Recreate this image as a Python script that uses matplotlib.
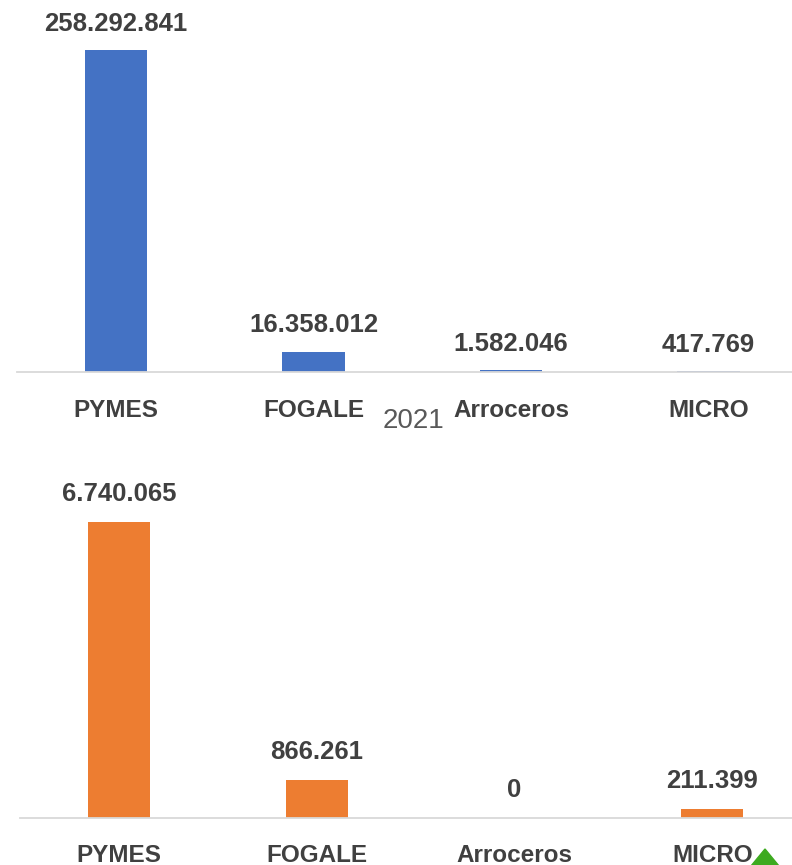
import matplotlib
matplotlib.use("Agg")
import matplotlib.pyplot as plt
from matplotlib.patches import Polygon

categories = ["PYMES", "FOGALE", "Arroceros", "MICRO"]
values_top = [258292841, 16358012, 1582046, 417769]
values_bottom = [6740065, 866261, 0, 211399]
labels_top = ["258.292.841", "16.358.012", "1.582.046", "417.769"]
labels_bottom = ["6.740.065", "866.261", "0", "211.399"]
year_label = "2021"

W, H = 792, 865
fig = plt.figure(figsize=(W / 100, H / 100), dpi=100)
plt.rcParams['font.family'] = ['Liberation Sans', 'DejaVu Sans']

TXT = "#404040"
AXC = "#D9D9D9"


def px_axes(left, bottom_y, top_y, width):
    return fig.add_axes([left / W, (H - bottom_y) / H, width / W, (bottom_y - top_y) / H])


def draw(ax, vals, labels, color, ymax, pad, off):
    x = list(range(len(categories)))
    ax.bar(x, vals, width=0.314, color=color, zorder=2)
    ax.set_xlim(-0.5, 3.5)
    ax.set_ylim(0, ymax)
    for s in ["top", "left", "right"]:
        ax.spines[s].set_visible(False)
    ax.spines["bottom"].set_color(AXC)
    ax.spines["bottom"].set_linewidth(1.3)
    ax.set_yticks([])
    ax.set_xticks(x)
    ax.set_xticklabels(categories, fontsize=17.5, fontweight="bold", color=TXT)
    ax.tick_params(axis="x", length=0, pad=pad)
    for xi, v, lab in zip(x, vals, labels):
        ax.annotate(lab, (xi, v), xytext=(0, off), textcoords="offset points",
                    ha="center", va="center", fontsize=18.5, fontweight="bold",
                    color=TXT, annotation_clip=False)
    ax.patch.set_alpha(0)


ax1 = px_axes(17.25, 372, 0, 790)
draw(ax1, values_top, labels_top, "#4472C4", values_top[0] * 372 / 322, 19.5, 19)

ax2 = px_axes(20.2, 818, 440, 791)
draw(ax2, values_bottom, labels_bottom, "#ED7D31", values_bottom[0] * 378 / 296, 18.5, 20)

fig.text(413 / W, 1 - 421 / H, year_label, ha="center", va="center",
         fontsize=20, color="#595959")

tri = Polygon([[751 / W, 1 - 866 / H], [765 / W, 1 - 849 / H], [779 / W, 1 - 866 / H]],
              closed=True, transform=fig.transFigure, color="#3DAA1F", zorder=5)
fig.patches.append(tri)

fig.savefig("out.png", dpi=100, facecolor="white")
